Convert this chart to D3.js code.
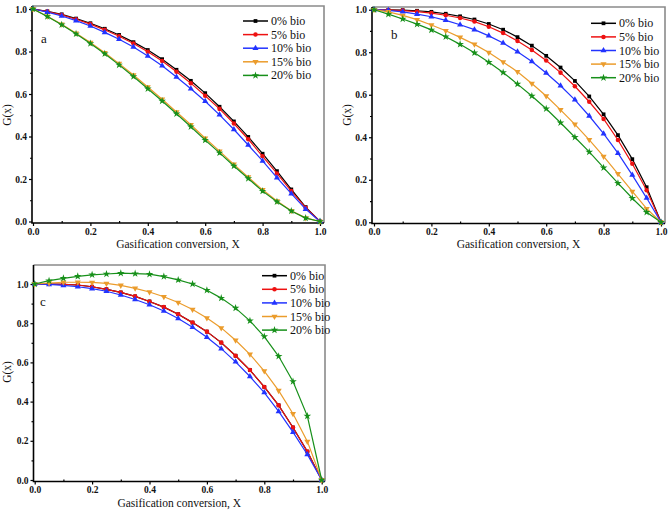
<!DOCTYPE html>
<html><head><meta charset="utf-8">
<script src="https://cdn.jsdelivr.net/npm/d3@7"></script>
<style>body{margin:0;background:#fff}svg{display:block}svg text{font-family:"Liberation Serif",serif}</style>
</head><body>
<svg id="chart" width="672" height="514"></svg>
<script>
const xValues = [0,0.05,0.1,0.15,0.2,0.25,0.3,0.35,0.4,0.45,0.5,0.55,0.6,0.65,0.7,0.75,0.8,0.85,0.9,0.95,1.0];
const seriesNames = ["0% bio","5% bio","10% bio","15% bio","20% bio"];
const xTicks = [0,0.2,0.4,0.6,0.8,1.0];
const yTicks = [0,0.2,0.4,0.6,0.8,1.0];

// Panel a
const a0 = [1.0,0.989,0.975,0.955,0.933,0.907,0.878,0.844,0.807,0.764,0.714,0.662,0.604,0.540,0.471,0.398,0.319,0.237,0.151,0.068,0];
const a5 = [1.0,0.988,0.972,0.952,0.929,0.902,0.872,0.838,0.799,0.755,0.705,0.651,0.592,0.530,0.461,0.387,0.307,0.226,0.143,0.065,0];
const a10 = [1.0,0.985,0.967,0.945,0.920,0.890,0.858,0.821,0.779,0.733,0.680,0.625,0.566,0.502,0.433,0.360,0.285,0.206,0.131,0.058,0];
const a15 = [1.0,0.966,0.928,0.886,0.842,0.794,0.743,0.689,0.633,0.575,0.515,0.455,0.392,0.331,0.269,0.209,0.149,0.097,0.051,0.017,0];
const a20 = [1.0,0.965,0.926,0.883,0.838,0.789,0.737,0.682,0.625,0.567,0.507,0.446,0.383,0.323,0.261,0.202,0.143,0.093,0.049,0.016,0];
// Panel b
const b0 = [1.0,0.999,0.998,0.995,0.990,0.981,0.969,0.954,0.933,0.906,0.871,0.831,0.783,0.728,0.665,0.592,0.508,0.410,0.297,0.165,0];
const b5 = [1.0,0.999,0.996,0.991,0.984,0.974,0.961,0.944,0.920,0.890,0.853,0.810,0.761,0.704,0.640,0.567,0.486,0.387,0.275,0.151,0];
const b10 = [1.0,0.997,0.990,0.979,0.967,0.950,0.929,0.906,0.877,0.843,0.802,0.756,0.702,0.642,0.576,0.500,0.417,0.325,0.222,0.114,0];
const b15 = [1.0,0.990,0.973,0.953,0.928,0.901,0.870,0.837,0.799,0.754,0.708,0.653,0.594,0.529,0.461,0.388,0.310,0.228,0.145,0.064,0];
const b20 = [1.0,0.979,0.956,0.932,0.905,0.873,0.837,0.797,0.753,0.705,0.650,0.594,0.534,0.468,0.400,0.331,0.257,0.184,0.113,0.047,0];
// Panel c
const c0 = [1.0,1.0,0.998,0.995,0.986,0.973,0.957,0.937,0.911,0.882,0.846,0.803,0.757,0.701,0.634,0.561,0.475,0.381,0.268,0.145,0];
const c5 = [1.0,1.0,0.998,0.995,0.986,0.973,0.957,0.937,0.911,0.882,0.846,0.803,0.757,0.701,0.634,0.561,0.475,0.381,0.268,0.145,0];
const c10 = [1.0,0.998,0.993,0.986,0.976,0.963,0.944,0.921,0.894,0.862,0.824,0.779,0.728,0.670,0.603,0.528,0.446,0.350,0.244,0.130,0];
const c15 = [1.0,1.005,1.009,1.009,1.008,1.003,0.993,0.978,0.959,0.935,0.906,0.870,0.827,0.776,0.713,0.641,0.556,0.456,0.338,0.197,0];
const c20 = [1.0,1.017,1.029,1.039,1.047,1.051,1.055,1.053,1.050,1.038,1.021,1.000,0.968,0.928,0.877,0.812,0.732,0.631,0.503,0.326,0];

const colors = ["#000000","#ee1111","#2233ff","#eb9c2c","#17901a"];
const symbols = [d3.symbolSquare, d3.symbolCircle, d3.symbolTriangle, d3.symbolTriangle, d3.symbolStar];
const rotations = [0,0,0,180,0];
const symSizes = [14,16,16,16,18];

const svg = d3.select("#chart");
const serif = "Liberation Serif, serif";

const panels = [
  {label:"a", data:[a0,a5,a10,a15,a20], xr:[33,320], yr:[221.5,9], frame:{l:32,r:324,t:6,b:223}, leg:{x:243,y:21}, lab:{x:41,y:43}, title:248, ylab:{x:11,y:115}},
  {label:"b", data:[b0,b5,b10,b15,b20], xr:[374,661], yr:[222.3,9.7], frame:{l:372,r:665,t:7,b:223.5}, leg:{x:591,y:23.3}, lab:{x:391,y:39}, title:248, ylab:{x:351,y:115}},
  {label:"c", data:[c0,c5,c10,c15,c20], xr:[34.7,321.7], yr:[480,284], frame:{l:33.5,r:325,t:265,b:481.5}, leg:{x:262,y:275.7}, lab:{x:40,y:306}, title:507, ylab:{x:11,y:372}}
];

panels.forEach(p => {
  const g = svg.append("g");
  const x = d3.scaleLinear().domain([0,1]).range(p.xr);
  const y = d3.scaleLinear().domain([0,1]).range(p.yr);
  const f = p.frame;
  g.append("path").attr("d",`M${f.l},${f.t}H${f.r}V${f.b}`).attr("fill","none").attr("stroke","#8a8a8a").attr("stroke-width",1.6);

  const xAxis = g.append("g").attr("transform",`translate(0,${f.b})`)
    .call(d3.axisBottom(x).tickValues(xTicks).tickFormat(d3.format(".1f")).tickSize(3).tickPadding(2));
  const xMinor = g.append("g").attr("transform",`translate(0,${f.b})`)
    .call(d3.axisBottom(x).tickValues([0.1,0.3,0.5,0.7,0.9]).tickFormat("").tickSize(-2));
  const yAxis = g.append("g").attr("transform",`translate(${f.l},0)`)
    .call(d3.axisLeft(y).tickValues(yTicks).tickFormat(d3.format(".1f")).tickSize(3).tickPadding(2));
  const yMinor = g.append("g").attr("transform",`translate(${f.l},0)`)
    .call(d3.axisLeft(y).tickValues([0.1,0.3,0.5,0.7,0.9]).tickFormat("").tickSize(2));
  [xAxis,xMinor,yAxis,yMinor].forEach(ax => {
    ax.select(".domain").remove();
    ax.selectAll("line").attr("stroke","#000").attr("stroke-width",1.2);
    ax.selectAll("text").attr("font-family",serif).attr("font-weight","bold").attr("font-size",9.5).attr("fill","#111");
  });
  g.append("path").attr("d",`M${f.l},${f.t}V${f.b}H${f.r}`).attr("fill","none").attr("stroke","#000").attr("stroke-width",1.6);

  const line = d3.line().x((d,i)=>x(xValues[i])).y(d=>y(d));
  p.data.forEach((vals,si) => {
    g.append("path").datum(vals).attr("d",line).attr("fill","none").attr("stroke",colors[si]).attr("stroke-width",1.2);
    g.selectAll(null).data(vals).enter().append("path")
      .attr("transform",(d,i)=>`translate(${x(xValues[i])},${y(d)}) rotate(${rotations[si]})`)
      .attr("d",d3.symbol().type(symbols[si]).size(symSizes[si]))
      .attr("fill",colors[si]);
  });

  seriesNames.forEach((name,si) => {
    const ly = p.leg.y + si*13.6;
    g.append("line").attr("x1",p.leg.x).attr("x2",p.leg.x+25).attr("y1",ly).attr("y2",ly).attr("stroke",colors[si]).attr("stroke-width",1.5);
    g.append("path").attr("transform",`translate(${p.leg.x+12.5},${ly}) rotate(${rotations[si]})`)
      .attr("d",d3.symbol().type(symbols[si]).size(symSizes[si])).attr("fill",colors[si]);
    g.append("text").attr("x",p.leg.x+28).attr("y",ly+4).text(name)
      .attr("font-family",serif).attr("font-size",12).attr("fill","#111");
  });

  g.append("text").attr("x",p.lab.x).attr("y",p.lab.y).text(p.label)
    .attr("font-family",serif).attr("font-size",13).attr("fill","#111");
  g.append("text").attr("x",(f.l+f.r)/2).attr("y",p.title).attr("text-anchor","middle")
    .text("Gasification conversion, X").attr("font-family",serif).attr("font-size",11.5).attr("fill","#111");
  g.append("text").attr("transform",`translate(${p.ylab.x},${p.ylab.y}) rotate(-90)`).attr("text-anchor","middle")
    .text("G(x)").attr("font-family",serif).attr("font-size",11.5).attr("fill","#111");
});
</script>
</body></html>
